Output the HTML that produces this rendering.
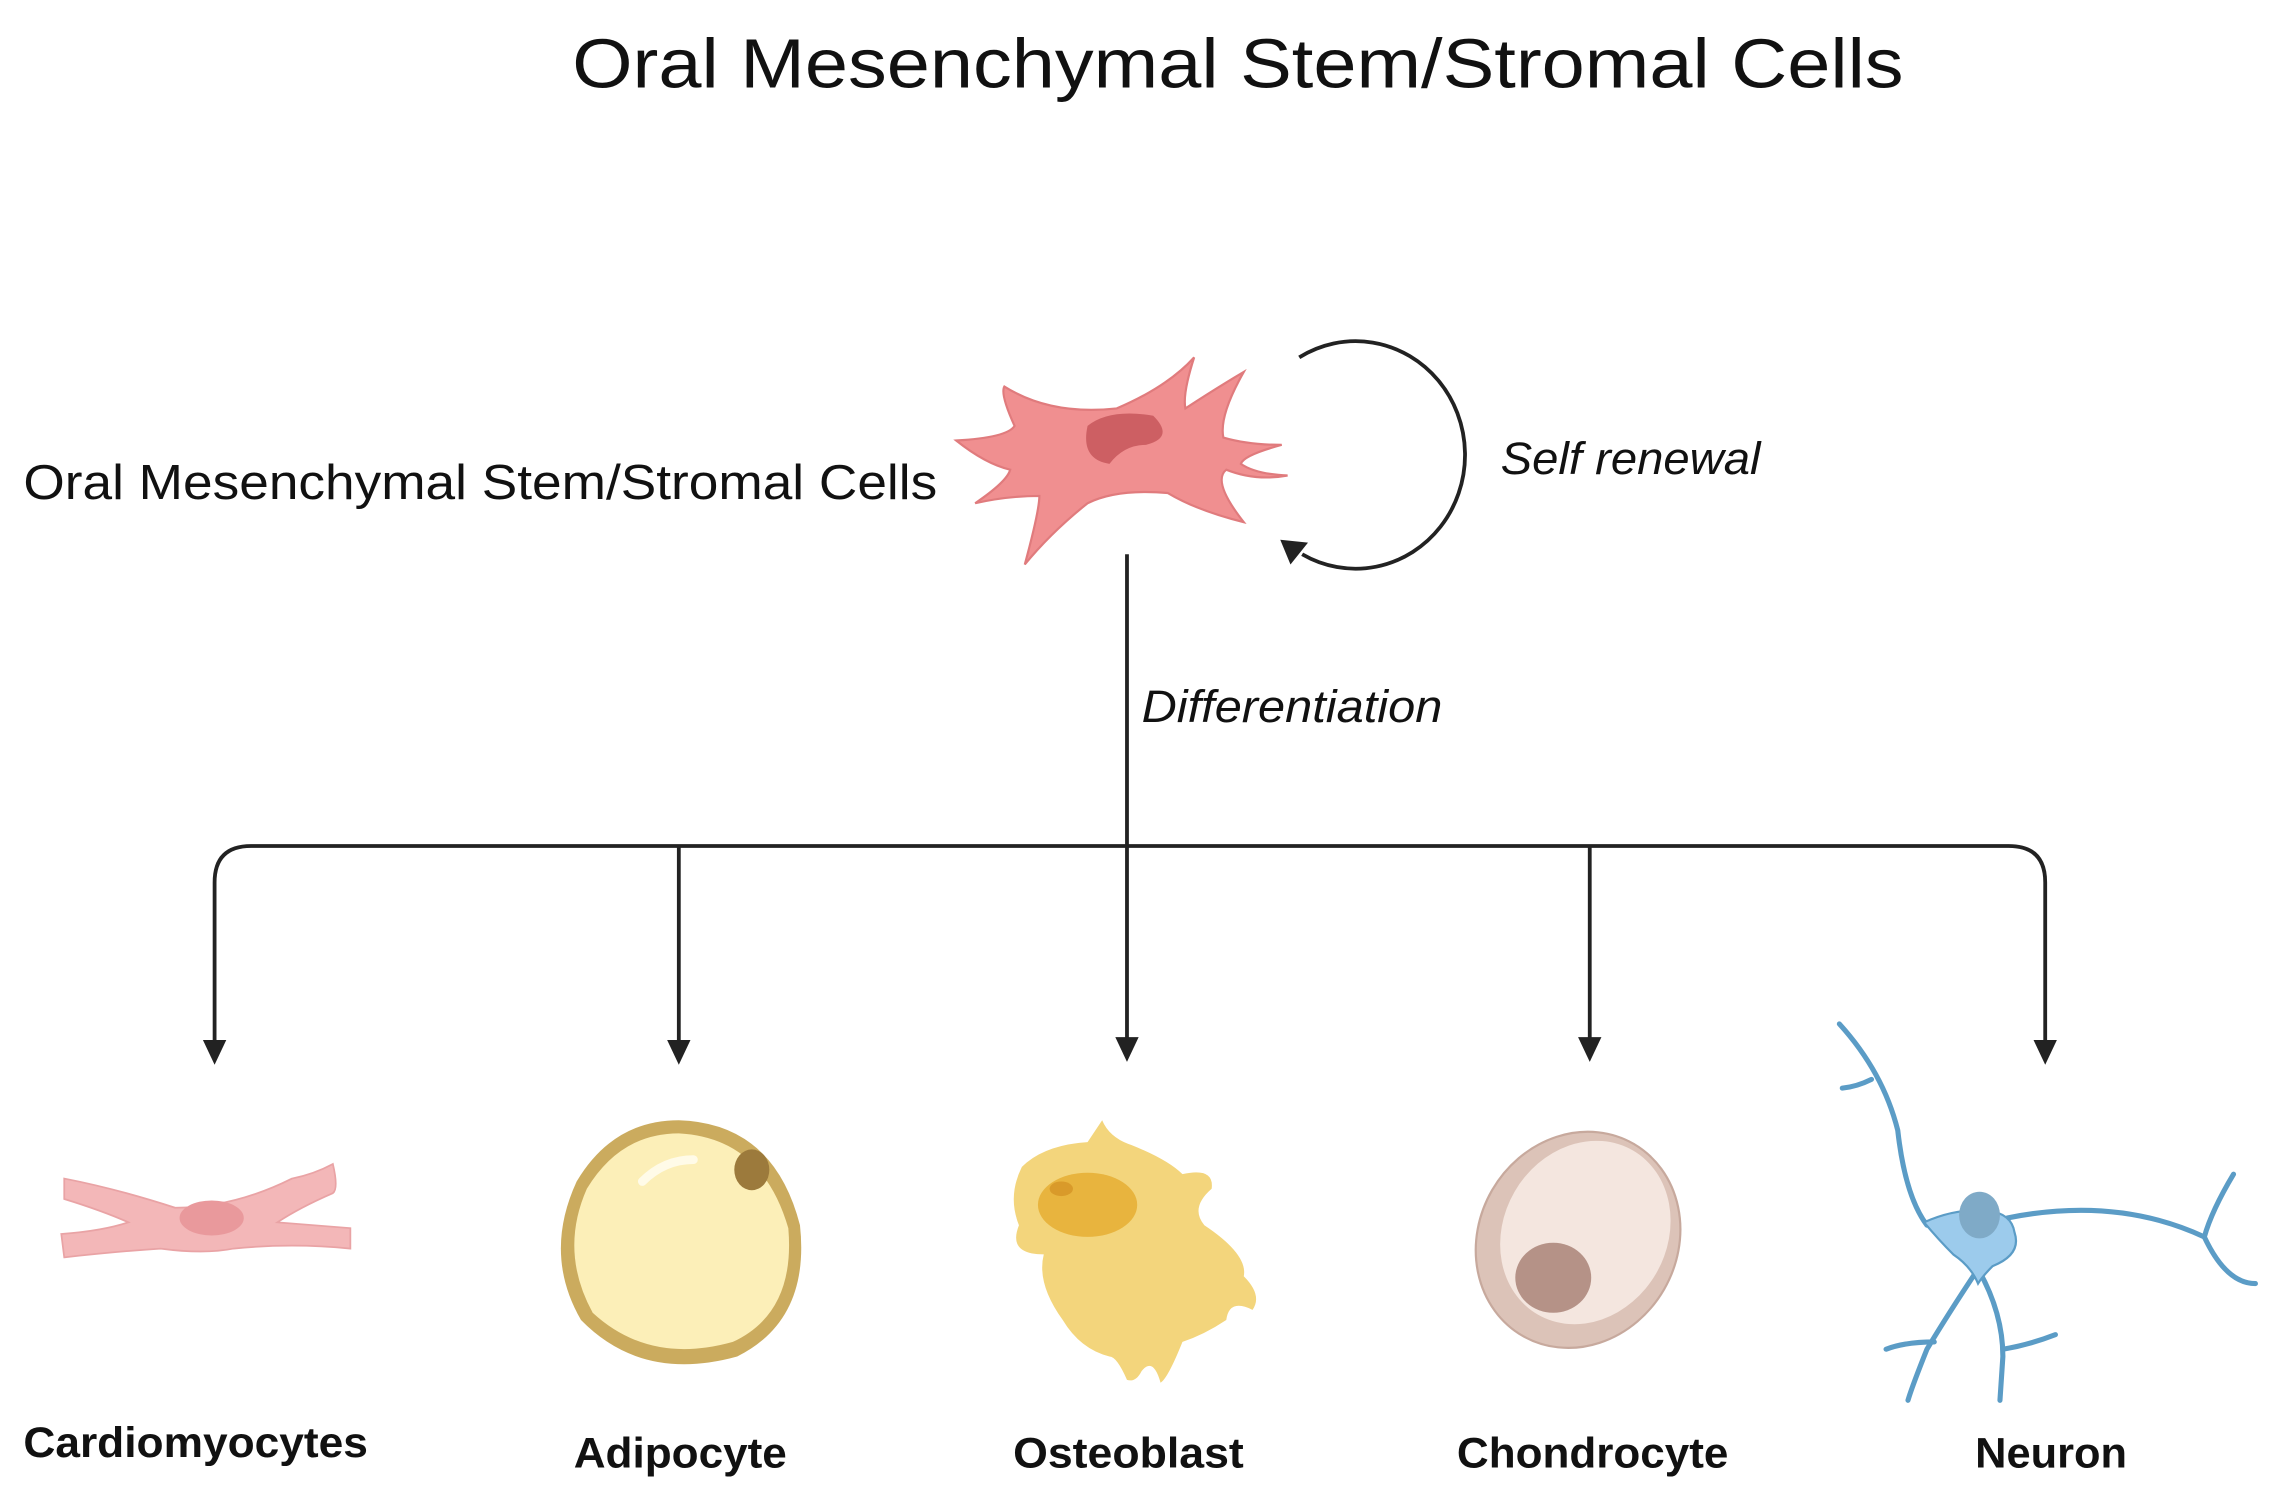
<!DOCTYPE html>
<html><head><meta charset="utf-8"><style>
html,body{margin:0;padding:0;background:#fff;}
svg{display:block;}
</style></head><body>
<svg width="2289" height="1498" viewBox="0 0 1568 1027" preserveAspectRatio="none" xmlns="http://www.w3.org/2000/svg">
<g font-family="Liberation Sans, sans-serif" fill="#111">
<text x="848" y="60" font-size="48" text-anchor="middle" textLength="912" lengthAdjust="spacingAndGlyphs">Oral Mesenchymal Stem/Stromal Cells</text>
<text x="16" y="342" font-size="34" textLength="626" lengthAdjust="spacingAndGlyphs">Oral Mesenchymal Stem/Stromal Cells</text>
<text x="1028" y="325" font-size="31" font-style="italic" textLength="178" lengthAdjust="spacingAndGlyphs">Self renewal</text>
<text x="782" y="495" font-size="31" font-style="italic" textLength="206" lengthAdjust="spacingAndGlyphs">Differentiation</text>
<g font-weight="bold" font-size="29" text-anchor="middle">
<text x="134" y="999" textLength="236" lengthAdjust="spacingAndGlyphs">Cardiomyocytes</text>
<text x="466" y="1006" textLength="146" lengthAdjust="spacingAndGlyphs">Adipocyte</text>
<text x="773" y="1006" textLength="158" lengthAdjust="spacingAndGlyphs">Osteoblast</text>
<text x="1091" y="1006" textLength="186" lengthAdjust="spacingAndGlyphs">Chondrocyte</text>
<text x="1405" y="1006" textLength="104" lengthAdjust="spacingAndGlyphs">Neuron</text>
</g>
</g>
<g stroke="#222" stroke-width="2.6" fill="none">
<path d="M772 380 V715"/>
<path d="M147 715 V605 Q147 580 172 580 H1376 Q1401 580 1401 605 V715"/>
<path d="M465 580 V715 M1089 580 V715"/>
<path d="M890 245 A75 78 0 1 1 892 380"/>
</g>
<g fill="#222">
<polygon points="139,713 155,713 147,730"/>
<polygon points="457,713 473,713 465,730"/>
<polygon points="764,711 780,711 772,728"/>
<polygon points="1081,711 1097,711 1089,728"/>
<polygon points="1393,713 1409,713 1401,730"/>
<polygon points="877,370 896,372 884,387"/>
</g>
<path d="M655 302 Q690 300 695 292 Q685 270 688 265 Q720 285 765 280 Q800 265 818 245 Q810 270 812 280 Q835 265 852 255 Q835 285 838 300 Q855 305 878 305 Q852 312 850 318 Q860 325 882 326 Q860 330 840 322 Q830 330 852 358 Q820 350 800 338 Q765 335 745 345 Q720 365 702 387 Q712 350 712 340 Q690 340 668 345 Q690 330 692 322 Q675 318 655 302 Z" fill="#f08f90" stroke="#e07b7d" stroke-width="1.5"/>
<path d="M745 292 Q760 280 790 285 Q805 300 785 305 Q770 305 760 318 Q740 315 745 292 Z" fill="#cd5f63"/>
<path d="M44 808 Q80 815 120 828 Q160 828 200 808 Q215 805 228 798 Q232 815 228 818 Q205 828 190 838 Q215 840 240 842 L240 856 Q200 852 160 856 Q140 860 110 856 Q80 858 44 862 L42 846 Q70 844 88 838 Q70 830 44 822 Z" fill="#f3b7b8" stroke="#e9a3a5" stroke-width="1.2"/>
<ellipse cx="145" cy="835" rx="22" ry="12" fill="#e9999c"/>
<path d="M465 768 Q530 770 548 840 Q555 905 505 930 Q440 948 398 905 Q372 860 395 810 Q420 768 465 768 Z" fill="#cbab5e"/>
<path d="M465 777 Q522 780 540 842 Q545 900 502 920 Q445 936 406 900 Q383 858 402 815 Q425 777 465 777 Z" fill="#fcefb8"/>
<ellipse cx="515" cy="802" rx="12" ry="14" fill="#9c7a3c"/>
<path d="M440 810 Q455 795 475 795" stroke="#fffbe8" stroke-width="6" fill="none" stroke-linecap="round"/>
<path d="M755 768 Q760 780 775 785 Q800 795 810 805 Q832 800 830 815 Q815 828 825 840 Q855 860 852 875 Q865 888 858 898 Q842 890 840 905 Q825 915 810 920 Q800 945 795 948 Q790 930 782 940 Q778 948 772 946 Q765 930 760 930 Q740 925 728 905 Q710 880 715 860 Q690 860 698 840 Q690 820 700 800 Q715 785 745 783 Z" fill="#f3d57c"/>
<ellipse cx="745" cy="826" rx="34" ry="22" fill="#e8b43e"/>
<ellipse cx="727" cy="815" rx="8" ry="5" fill="#d99a2a"/>
<ellipse cx="1081" cy="850" rx="68" ry="76" transform="rotate(30 1081 850)" fill="#dcc3b8" stroke="#c7a99d" stroke-width="1.5"/>
<ellipse cx="1086" cy="845" rx="56" ry="65" transform="rotate(30 1086 845)" fill="#f4e6df"/>
<ellipse cx="1064" cy="876" rx="26" ry="24" fill="#b59287"/>
<g stroke="#5b9cc6" stroke-width="3.5" fill="none" stroke-linecap="round">
<path d="M1260 702 Q1290 735 1300 775 Q1305 820 1320 840"/>
<path d="M1282 740 Q1272 745 1262 746"/>
<path d="M1375 835 Q1450 820 1510 848"/>
<path d="M1530 805 Q1515 830 1510 848 Q1525 880 1545 880"/>
<path d="M1355 870 Q1335 900 1320 925 Q1310 950 1307 960"/>
<path d="M1325 920 Q1305 920 1292 925"/>
<path d="M1355 870 Q1372 900 1372 930 L1370 960"/>
<path d="M1372 925 Q1390 922 1408 915"/>
</g>
<path d="M1318 838 Q1340 828 1362 830 Q1378 832 1380 845 Q1385 860 1365 868 Q1358 875 1355 880 Q1350 868 1338 860 Q1328 850 1318 838 Z" fill="#9ccbec" stroke="#5b9cc6" stroke-width="1.5"/>
<ellipse cx="1356" cy="833" rx="14" ry="16" fill="#7faac7"/>
</svg>
</body></html>
